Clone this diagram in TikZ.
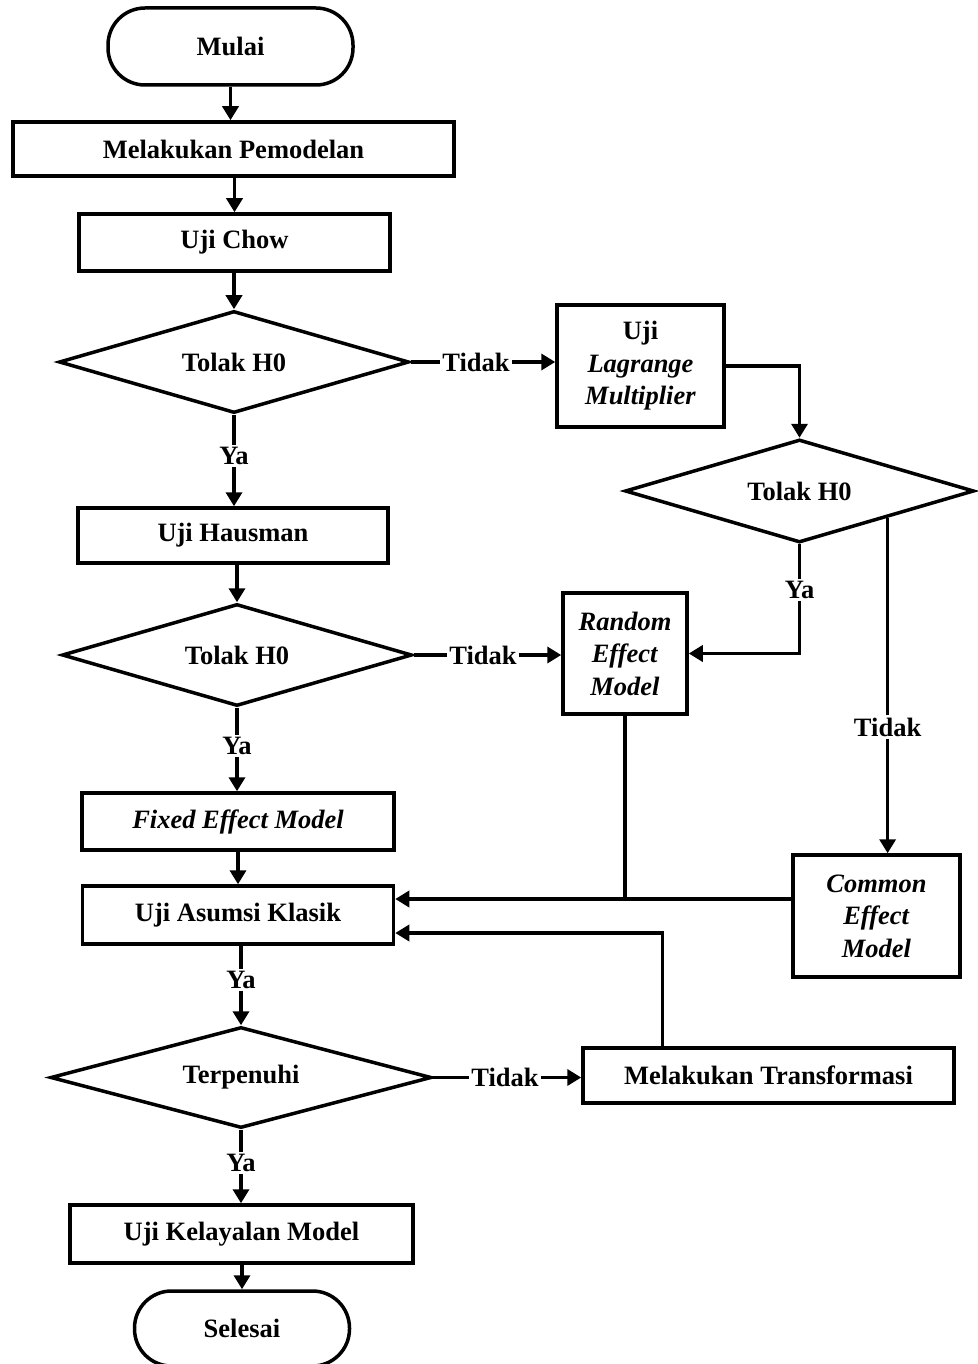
\documentclass[tikz,border=0pt]{standalone}
\usepackage{fontspec}
\setmainfont{Liberation Serif}
\usetikzlibrary{shapes.geometric,arrows.meta,calc}
\begin{document}
\begin{tikzpicture}[x=1pt,y=-1pt,
  every node/.style={font=\bfseries\fontsize{26.5}{32.5}\selectfont},
  base/.style={draw,line width=3.5pt,inner sep=0pt,align=center},
  procbox/.style={base,rectangle},
  termbox/.style={base,rectangle,rounded corners=37pt},
  decbox/.style={base,diamond,aspect=3.4},
  lbl/.style={inner sep=2pt},
  conn/.style={line width=3.5pt},
  arr/.style={line width=3.5pt,-{Triangle[length=14pt,width=16pt]}}]
\useasboundingbox (0,0) rectangle (977,1364);

% nodes
\node[termbox,minimum width=245pt,minimum height=77pt] (mulai) at (230.5,46.5) {Mulai};
\node[procbox,minimum width=441pt,minimum height=54pt] (mp) at (233.5,149) {Melakukan Pemodelan};
\node[procbox,minimum width=311pt,minimum height=57pt] (uc) at (234.5,242.5) {Uji Chow};
\node[decbox,minimum width=350pt,minimum height=102pt] (d1) at (234,362) {Tolak H0};
\node[procbox,minimum width=167pt,minimum height=122pt] (lm) at (640.5,366) {Uji\\\textit{Lagrange}\\\textit{Multiplier}};
\node[decbox,minimum width=349pt,minimum height=103pt] (d2) at (799.5,491) {Tolak H0};
\node[procbox,minimum width=310pt,minimum height=55pt] (uh) at (233,535.5) {Uji Hausman};
\node[decbox,minimum width=350pt,minimum height=102pt] (d3) at (237,655) {Tolak H0};
\node[procbox,minimum width=124pt,minimum height=121pt] (rem) at (625,653.5) {\textit{Random}\\\textit{Effect}\\\textit{Model}};
\node[procbox,minimum width=312pt,minimum height=57pt] (fem) at (238,821.5) {\textit{Fixed Effect Model}};
\node[procbox,minimum width=311pt,minimum height=58pt] (uak) at (238,915) {Uji Asumsi Klasik};
\node[procbox,minimum width=167pt,minimum height=122pt] (cem) at (876.5,916) {\textit{Common}\\\textit{Effect}\\\textit{Model}};
\node[decbox,minimum width=381pt,minimum height=101pt] (d4) at (241,1077.5) {Terpenuhi};
\node[procbox,minimum width=371pt,minimum height=55pt] (mt) at (768.5,1075.5) {Melakukan Transformasi};
\node[procbox,minimum width=343pt,minimum height=58pt] (ukm) at (241.5,1234) {Uji Kelayalan Model};
\node[termbox,minimum width=215pt,minimum height=75pt] (selesai) at (242,1328.5) {Selesai};

% labels
\node[lbl] (t1) at (476,362) {Tidak};
\node[lbl] (y1) at (d1.south |- 0,456) {Ya};
\node[lbl] (y2) at (d2.south |- 0,590) {Ya};
\node[lbl] (t2) at (d2.south east |- 0,727) {Tidak};
\node[lbl] (t3) at (483,655) {Tidak};
\node[lbl] (y3) at (d3.south |- 0,746) {Ya};
\node[lbl] (y4) at (d4.north |- 0,980) {Ya};
\node[lbl] (t4) at (505,1077.5) {Tidak};
\node[lbl] (y5) at (d4.south |- 0,1163) {Ya};

\coordinate (j1) at ($(uak.east)+(0,-16)$);
\coordinate (j2) at ($(uak.east)+(0,18)$);
\coordinate (tm) at ($(mt.north)+(-106,0)$);

% connectors
\draw[arr] (mulai) -- (mulai.south |- mp.north);
\draw[arr] (mp.south -| uc) -- (uc);
\draw[arr] (uc.south -| d1) -- (d1);
\draw[conn] (d1.east) -- (t1.west);
\draw[arr] (t1.east) -- (t1.east -| lm.west);
\draw[arr] (lm.east) -| (d2.north);
\draw[conn] (d1.south) -- (y1.north);
\draw[arr] (y1.south) -- (y1.south |- uh.north);
\draw[arr] (uh.south -| d3) -- (d3);
\draw[conn] (d2.south) -- (y2.north);
\draw[arr] (y2.south) |- (rem.east);
\draw[conn] (d2.south east) -- (t2.north);
\draw[arr] (t2.south) -- (t2.south |- cem.north);
\draw[conn] (d3.east) -- (t3.west);
\draw[arr] (t3.east) -- (t3.east -| rem.west);
\draw[conn] (d3.south) -- (y3.north);
\draw[arr] (y3.south) -- (y3.south |- fem.north);
\draw[arr] (fem.south -| uak) -- (uak);
\draw[conn] (rem.south) -- (rem.south |- j1);
\draw[arr] (cem.west |- j1) -- (j1);
\draw[arr] (tm) |- (j2);
\draw[conn] (uak.south -| y4) -- (y4.north);
\draw[arr] (y4.south) -- (y4.south |- d4.north);
\draw[conn] (d4.east) -- (t4.west);
\draw[arr] (t4.east) -- (t4.east -| mt.west);
\draw[conn] (d4.south) -- (y5.north);
\draw[arr] (y5.south) -- (y5.south |- ukm.north);
\draw[arr] (ukm.south -| selesai) -- (selesai);
\end{tikzpicture}
\end{document}
